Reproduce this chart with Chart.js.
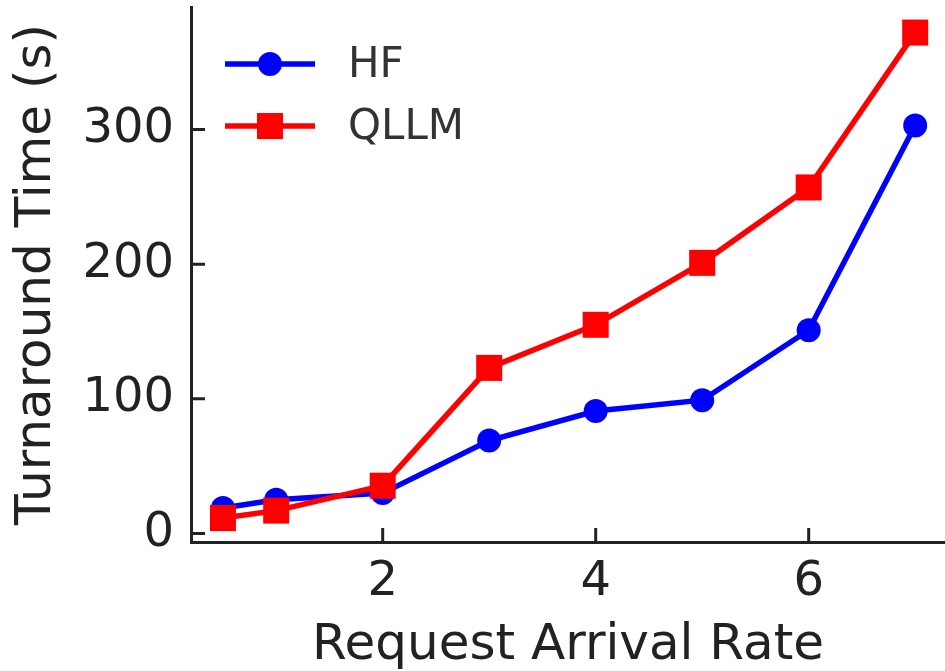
<!DOCTYPE html>
<html>
<head>
<meta charset="utf-8">
<script src="https://cdn.jsdelivr.net/npm/chart.js@4"></script>
<style>
  html, body { margin: 0; padding: 0; background: #fff; }
  #wrap { width: 945px; height: 671px; position: relative; }
</style>
</head>
<body>
<div id="wrap"><canvas id="turnaround"></canvas></div>
<script>
// request arrival rate (x) and turnaround times (s)
const rates = [0.5, 1, 2, 3, 4, 5, 6, 7];
const hfTimes = [19, 25, 30, 69, 91, 99, 151, 303];
const qllmTimes = [11.5, 17, 35.5, 123, 155, 201, 257, 372];
const xTicks = [2, 4, 6];
const yTicks = [0, 100, 200, 300];

const ink = '#222';
const fontFam = "'DejaVu Sans', sans-serif";

// no extra room for edge labels, the plot box is set by hand
function noPad(s) {
  s.paddingLeft = 0; s.paddingRight = 0;
  s.paddingTop = 0; s.paddingBottom = 0;
}

// matplotlib-like ticks pointing into the plot + legend in upper left
const extras = {
  id: 'extras',
  afterDatasetsDraw(chart) {
    const c = chart.ctx;
    const a = chart.chartArea;
    const xs = chart.scales.x, ys = chart.scales.y;
    c.save();
    c.strokeStyle = ink;
    c.lineWidth = 3;
    c.beginPath();
    xs.ticks.forEach(t => {
      const px = xs.getPixelForValue(t.value);
      c.moveTo(px, a.bottom);
      c.lineTo(px, a.bottom - 14);
    });
    ys.ticks.forEach(t => {
      const py = ys.getPixelForValue(t.value);
      c.moveTo(a.left, py);
      c.lineTo(a.left + 14, py);
    });
    c.stroke();

    // legend
    chart.data.datasets.forEach((ds, i) => {
      const y = a.top + 57 + i * 62;
      const x0 = a.left + 34, x1 = a.left + 124;
      c.strokeStyle = ds.borderColor;
      c.lineWidth = ds.borderWidth;
      c.beginPath();
      c.moveTo(x0, y);
      c.lineTo(x1, y);
      c.stroke();
      c.fillStyle = ds.pointBackgroundColor;
      const mx = (x0 + x1) / 2;
      if (ds.pointStyle === 'rect') {
        const s = Math.SQRT1_2 * ds.pointRadius;
        c.fillRect(mx - s, y - s, 2 * s, 2 * s);
      } else {
        c.beginPath();
        c.arc(mx, y, ds.pointRadius, 0, Math.PI * 2);
        c.fill();
      }
      c.fillStyle = '#333';
      c.font = '42px ' + fontFam;
      c.textBaseline = 'middle';
      c.textAlign = 'left';
      c.fillText(ds.label, a.left + 157, y + 2);
    });
    c.restore();
  }
};

const ctx = document.getElementById('turnaround');
const turnaround = new Chart(ctx, {
  type: 'line',
  data: {
    datasets: [{
      label: 'HF',
      data: rates.map((r, i) => ({x: r, y: hfTimes[i]})),
      borderColor: '#0000ff',
      backgroundColor: '#0000ff',
      pointBackgroundColor: '#0000ff',
      pointBorderWidth: 0,
      pointRadius: 12,
      pointStyle: 'circle',
      borderWidth: 5.5,
      order: 1,
      clip: false
    },
    {
      label: 'QLLM',
      data: rates.map((r, i) => ({x: r, y: qllmTimes[i]})),
      borderColor: '#ff0000',
      backgroundColor: '#ff0000',
      pointBackgroundColor: '#ff0000',
      pointBorderWidth: 0,
      pointRadius: 18.4,
      pointStyle: 'rect',
      borderWidth: 5.5,
      order: 0,
      clip: false
    }]
  },
  options: {
    responsive: true,
    maintainAspectRatio: false,
    animation: false,
    layout: { autoPadding: false, padding: { top: 7, right: 0, left: 0, bottom: 0 } },
    plugins: {
      legend: { display: false },
      tooltip: { enabled: false }
    },
    scales: {
      x: {
        type: 'linear',
        min: 0.2,
        max: 7.28,
        afterBuildTicks: s => { s.ticks = xTicks.map(v => ({value: v})); },
        afterFit: s => { s.height = 129; noPad(s); },
        grid: { drawOnChartArea: false, drawTicks: false },
        border: { display: true, color: ink, width: 3 },
        ticks: { color: ink, font: { family: fontFam, size: 48 }, padding: 12, maxRotation: 0 },
        title: { display: true, text: 'Request Arrival Rate', color: ink,
                 font: { family: fontFam, size: 50 }, padding: { top: 0, bottom: -5 } }
      },
      y: {
        type: 'linear',
        min: -6.3,
        max: 391,
        afterBuildTicks: s => { s.ticks = yTicks.map(v => ({value: v})); },
        afterFit: s => { s.width = 191; noPad(s); },
        grid: { drawOnChartArea: false, drawTicks: false },
        border: { display: true, color: ink, width: 3 },
        ticks: { color: ink, font: { family: fontFam, size: 48 }, padding: 17 },
        title: { display: true, text: 'Turnaround Time (s)', color: ink,
                 font: { family: fontFam, size: 50 }, padding: { top: 7, bottom: 0 } }
      }
    }
  },
  plugins: [extras]
});
</script>
</body>
</html>
